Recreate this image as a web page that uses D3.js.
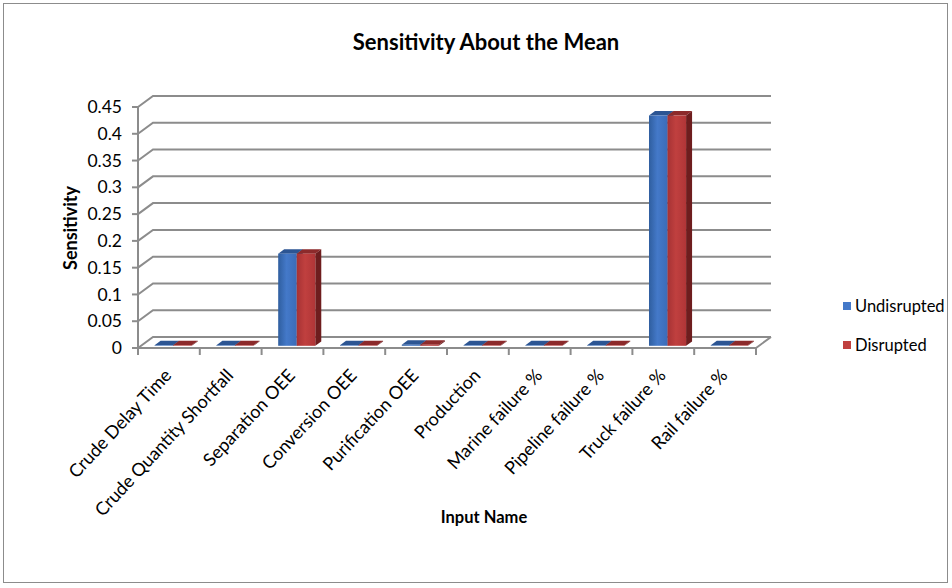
<!DOCTYPE html>
<html>
<head>
<meta charset="utf-8">
<script src="https://cdn.jsdelivr.net/npm/d3@7"></script>
<style>
  body { margin: 0; background: #fff; }
  text { font-family: Lato, "Open Sans", sans-serif; fill: #000; }
</style>
</head>
<body>
<svg width="952" height="588"></svg>
<script>
const categories = ['Crude Delay Time', 'Crude Quantity Shortfall', 'Separation OEE', 'Conversion OEE',
  'Purification OEE', 'Production', 'Marine failure %', 'Pipeline failure %', 'Truck failure %', 'Rail failure %'];
const seriesNames = ['Undisrupted', 'Disrupted'];
const undisrupted = [0.001, 0.001, 0.172, 0.001, 0.002, 0.001, 0.001, 0.001, 0.43, 0.001];
const disrupted = [0.001, 0.001, 0.172, 0.001, 0.002, 0.001, 0.001, 0.001, 0.43, 0.001];
const yTicks = [0, 0.05, 0.1, 0.15, 0.2, 0.25, 0.3, 0.35, 0.4, 0.45];

const svg = d3.select('svg');

// outer chart border
svg.append('rect')
  .attr('x', 3.5).attr('y', 3.5).attr('width', 944).attr('height', 579)
  .attr('fill', '#fff').attr('stroke', '#8c8c8c').attr('stroke-width', 1);

const x = d3.scaleBand().domain(categories).range([138, 756]);
const y = d3.scaleLinear().domain([0, 0.45]).range([348, 107]);

// depth of the 3d box (full depth offset)
const DX = 15, DY = -11;
const pt = (px, v, d) => [px + DX * d, y(v) + DY * d];

const grid = svg.append('g').attr('fill', 'none').attr('stroke', '#8c8c8c').attr('stroke-width', 2);

// gridlines: left wall diagonal + back wall
yTicks.forEach(t => {
  grid.append('path').attr('d', d3.line()([pt(138, t, 0), pt(138, t, 1), pt(756, t, 1)]));
});

// floor
grid.append('path').attr('d', d3.line()([pt(138, 0, 0), pt(756, 0, 0), pt(756, 0, 1)]));
// front vertical axis
grid.append('path').attr('d', d3.line()([pt(138, 0, 0), pt(138, 0.45, 0)]));

// y tick marks
yTicks.forEach(t => {
  grid.append('path').attr('d', d3.line()([[132, y(t)], [138, y(t)]]));
});
// category tick marks
x.domain().concat([null]).forEach(c => {
  const px = c === null ? x.range()[1] : x(c);
  grid.append('path').attr('d', d3.line()([[px, 348], [px, 355]]));
});

// y tick labels
svg.append('g').selectAll('text').data(yTicks).join('text')
  .attr('x', 122).attr('y', d => y(d))
  .attr('dy', '0.35em')
  .attr('text-anchor', 'end')
  .style('font-size', '17.5px')
  .text(d => d3.format('')(d));

// gradients for bar fronts
const defs = svg.append('defs');
const gradStops = {
  blue: ['#2f5e9f', '#4479c9', '#3b6cb8'],
  red: ['#a63234', '#c0403f', '#b03537']
};
Object.entries(gradStops).forEach(([k, c]) => {
  const g = defs.append('linearGradient').attr('id', 'g-' + k).attr('x1', 0).attr('x2', 1).attr('y1', 0).attr('y2', 0);
  g.append('stop').attr('offset', '0%').attr('stop-color', c[0]);
  g.append('stop').attr('offset', '45%').attr('stop-color', c[1]);
  g.append('stop').attr('offset', '100%').attr('stop-color', c[2]);
});
const faces = [
  { front: 'url(#g-blue)', top: '#2c5593', side: '#1f3f70', legend: '#4479c9' },
  { front: 'url(#g-red)', top: '#8c2a2b', side: '#6e1d1e', legend: '#c0403f' }
];

// bars
const f0 = 0.2, f1 = 0.6;
const bw = x.bandwidth() * 0.3;
const off = x.bandwidth() * 0.22;
const series = [undisrupted, disrupted];
const bars = svg.append('g');
categories.forEach((c, i) => {
  series.forEach((vals, s) => {
    const v = vals[i];
    const x0 = x(c) + off + s * bw, x1 = x0 + bw;
    const col = faces[s];
    const g = bars.append('g');
    // top
    g.append('path').attr('fill', col.top)
      .attr('d', d3.line()([pt(x0, v, f0), pt(x1, v, f0), pt(x1, v, f1), pt(x0, v, f1)]) + 'Z');
    // right side
    g.append('path').attr('fill', col.side)
      .attr('d', d3.line()([pt(x1, 0, f0), pt(x1, v, f0), pt(x1, v, f1), pt(x1, 0, f1)]) + 'Z');
    // front
    const [fx, fy] = pt(x0, v, f0);
    const [, by] = pt(x0, 0, f0);
    g.append('rect').attr('x', fx).attr('y', fy).attr('width', bw).attr('height', Math.max(0, by - fy))
      .attr('fill', col.front);
  });
});

// category labels
svg.append('g').selectAll('text').data(categories).join('text')
  .attr('transform', d => `translate(${x(d) + x.bandwidth() / 2 - 1},${372}) rotate(-47)`)
  .attr('text-anchor', 'end')
  .attr('dy', '0.35em')
  .style('font-size', '18px')
  .text(d => d);

// titles
svg.append('text').attr('x', 486).attr('y', 50).attr('text-anchor', 'middle')
  .style('font-size', '22px').style('font-weight', 'bold').text('Sensitivity About the Mean');
svg.append('text').attr('x', 484).attr('y', 523).attr('text-anchor', 'middle')
  .style('font-size', '16.5px').style('font-weight', 'bold').text('Input Name');
svg.append('text').attr('transform', 'translate(77,228) rotate(-90)').attr('text-anchor', 'middle')
  .style('font-size', '18px').style('font-weight', 'bold').text('Sensitivity');

// legend
const legend = svg.append('g').selectAll('g').data(seriesNames).join('g')
  .attr('transform', (d, i) => `translate(843,${306 + i * 39})`);
legend.append('rect').attr('x', 0).attr('y', -4).attr('width', 8).attr('height', 8)
  .attr('fill', (d, i) => faces[i].legend);
legend.append('text').attr('x', 12).attr('dy', '0.35em').style('font-size', '16.5px').text(d => d);
</script>
</body>
</html>
